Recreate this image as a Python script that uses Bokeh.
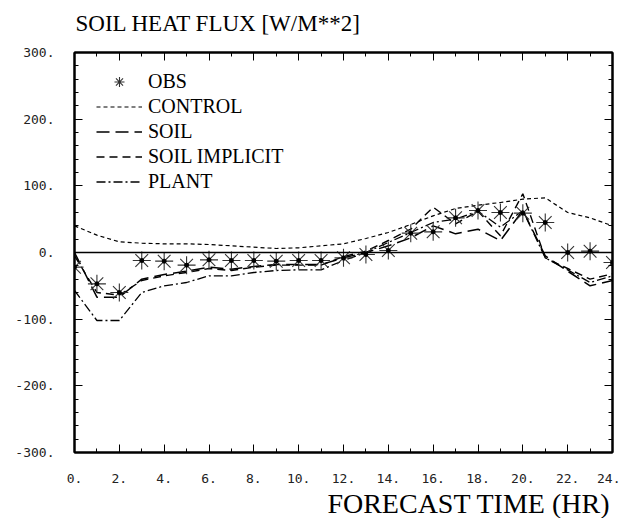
from bokeh.plotting import figure
from bokeh.models import (Range1d, LinearAxis, FixedTicker, PrintfTickFormatter, Span,
                          Legend, LegendItem, Title, CustomLabelingPolicy)
from bokeh.embed import file_html
from bokeh.resources import INLINE

# ---- data ----
hours = list(range(25))
obs = [-22, -47, -60, -12, -13, -19, -11, -12, -12, -13, -12, -12, -8, -3, 3, 29, 31, 52, 63, 60, 59, 45, 0, 2, -15]
control = [40, 26, 16, 14, 13, 13, 12, 10, 8, 6, 7, 10, 13, 21, 30, 42, 55, 66, 71, 75, 80, 82, 60, 52, 40]
soil = [0, -67, -67, -40, -33, -28, -22, -25, -21, -18, -18, -18, -8, 0, 10, 22, 40, 28, 35, 18, 63, -5, -28, -50, -42]
soil_implicit = [-5, -60, -64, -42, -35, -30, -24, -27, -22, -19, -19, -19, -6, 2, 18, 35, 68, 43, 62, 25, 88, -8, -24, -40, -32]
plant = [-57, -102, -102, -60, -50, -45, -35, -35, -30, -27, -26, -26, -12, 0, 15, 30, 45, 50, 62, 38, 63, -8, -26, -45, -35]

x_major = list(range(0, 25, 2))
x_minor = list(range(0, 25, 1))
y_major = list(range(-300, 301, 100))
y_minor = list(range(-300, 301, 20))
zero_level = 0

title_text = "SOIL HEAT FLUX [W/M**2]"
xlabel_text = "FORECAST TIME  (HR)"

SERIF = "Liberation Serif"
MONO = "DejaVu Sans Mono"

p = figure(width=620, height=518, output_backend="svg", toolbar_location=None,
           x_range=Range1d(0, 24), y_range=Range1d(-300, 300),
           x_axis_location=None, y_axis_location=None)
p.min_border_left = 74
p.min_border_right = 8
p.min_border_top = 52
p.min_border_bottom = 66
p.background_fill_color = "white"
p.border_fill_color = "white"
p.outline_line_color = "black"
p.outline_line_width = 2
p.xgrid.visible = False
p.ygrid.visible = False

no_labels = CustomLabelingPolicy(code="const a = [...indices]; for (const i of a) indices.unset(i); return indices;")


def style_axis(ax, labels=True):
    ax.axis_line_color = "black"
    ax.axis_line_width = 2
    ax.major_tick_in = 8
    ax.major_tick_out = 0
    ax.minor_tick_in = 4
    ax.minor_tick_out = 0
    ax.major_tick_line_color = "black"
    ax.minor_tick_line_color = "black"
    ax.major_tick_line_width = 1
    ax.minor_tick_line_width = 1
    ax.formatter = PrintfTickFormatter(format="%d.")
    if labels:
        ax.major_label_text_font = MONO
        ax.major_label_text_font_size = "13px"
        ax.major_label_text_color = "#222222"
    else:
        ax.major_label_policy = no_labels
        ax.major_label_text_font_size = "0px"
        ax.major_label_standoff = 0


xt = FixedTicker(ticks=x_major, minor_ticks=x_minor)
yt = FixedTicker(ticks=y_major, minor_ticks=y_minor)

xb = LinearAxis(ticker=xt); style_axis(xb); xb.major_label_standoff = 21; p.add_layout(xb, "below")
xa = LinearAxis(ticker=xt); style_axis(xa, False); xa.major_label_text_font_size = "9px"; p.add_layout(xa, "above")
yl = LinearAxis(ticker=yt); style_axis(yl); yl.major_label_standoff = 20; p.add_layout(yl, "left")
yr = LinearAxis(ticker=yt); style_axis(yr, False); p.add_layout(yr, "right")

p.add_layout(Span(location=zero_level, dimension="width", line_color="black", line_width=1.6))

r_control = p.line(hours, control, line_color="black", line_width=1.2, line_dash="4 3")
r_soil = p.line(hours, soil, line_color="black", line_width=1.5, line_dash="13 6")
r_impl = p.line(hours, soil_implicit, line_color="black", line_width=1.4, line_dash="8 5")
r_plant = p.line(hours, plant, line_color="black", line_width=1.3, line_dash="9 3 2 3")
r_star = p.scatter(hours, obs, marker="asterisk", size=18, line_color="#333333", line_width=1.1)
r_dot = p.scatter(hours, obs, marker="circle", size=4, fill_color="black", line_color="black")

legend = Legend(items=[
    LegendItem(label="OBS", renderers=[r_star]),
    LegendItem(label="CONTROL", renderers=[r_control]),
    LegendItem(label="SOIL", renderers=[r_soil]),
    LegendItem(label="SOIL IMPLICIT", renderers=[r_impl]),
    LegendItem(label="PLANT", renderers=[r_plant]),
], location=(22, 258), padding=0, margin=0, spacing=0,
    glyph_width=46, glyph_height=25, label_height=25, label_standoff=6,
    label_text_font=SERIF, label_text_font_size="20px", label_text_color="black",
    border_line_alpha=0, background_fill_alpha=0)
p.add_layout(legend, "center")

p.title = Title(text=title_text, align="left", text_font=SERIF,
                text_font_size="23px", text_font_style="normal", text_color="black",
                standoff=16, offset=1)
p.add_layout(Title(text=xlabel_text, align="right", text_font=SERIF, text_font_size="28px",
                   text_font_style="normal", text_color="black", standoff=0, offset=-5), "below")

open("out.html", "w").write(file_html(p, INLINE))
